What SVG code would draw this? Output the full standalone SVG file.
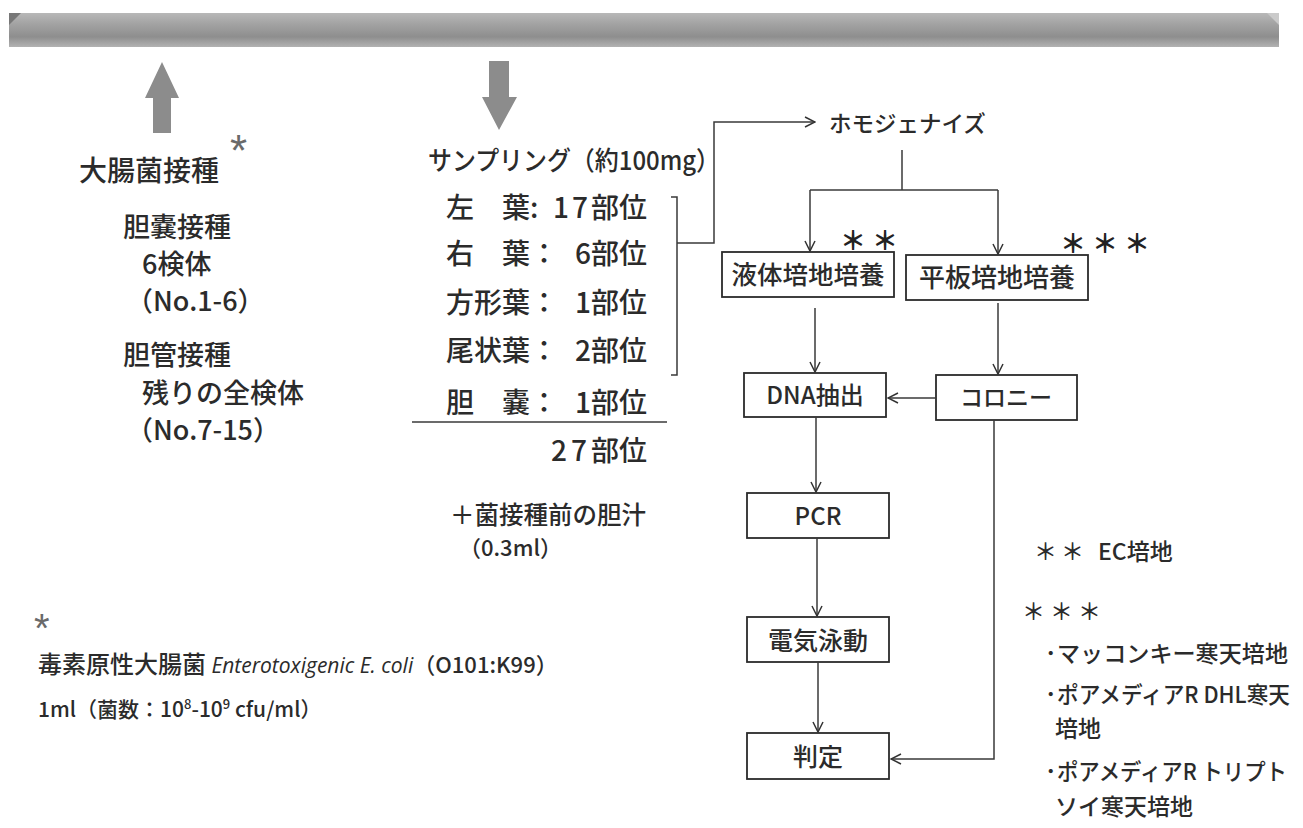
<svg xmlns="http://www.w3.org/2000/svg" width="1303" height="828" viewBox="0 0 1303 828">
<defs>
<linearGradient id="bar" x1="0" y1="0" x2="0" y2="1">
<stop offset="0" stop-color="#b8b8b8"/>
<stop offset="0.3" stop-color="#a4a4a4"/>
<stop offset="0.7" stop-color="#8e8e8e"/>
<stop offset="1" stop-color="#b2b2b2"/>
</linearGradient>
<marker id="ah" viewBox="0 0 12 12" refX="11" refY="6" markerWidth="12" markerHeight="12" markerUnits="userSpaceOnUse" orient="auto">
<path d="M1,1 L11,6 L1,11" fill="none" stroke="#333" stroke-width="1.5"/>
</marker>
<style>
text{font-family:"Noto Sans CJK JP","Noto Sans",sans-serif;fill:#2b2b2b;font-weight:500}
.lc{font-size:27px}
.mc{font-size:28px}
.bx{font-size:24px;text-anchor:middle}
.lg{font-size:23px}
.box{fill:#fff;stroke:#2b2b2b;stroke-width:1.8}
.ln{fill:none;stroke:#3a3a3a;stroke-width:1.5}
.fat{fill:#8c8c8c}
.ast{font-size:26px;font-weight:bold;fill:#222;letter-spacing:6px}
.star{font-family:"Liberation Sans",sans-serif;fill:#6a6a6a;font-weight:normal}
</style>
</defs>
<rect width="1303" height="828" fill="#fff"/>

<g id="top-bar">
<rect x="9" y="13" width="1270" height="34" fill="url(#bar)"/>
<polygon points="9,13 21,13 9,25" fill="#777"/>
<polygon points="1279,13 1267,13 1279,25" fill="#cacaca"/>
</g>

<g id="up-arrow">
<polygon class="fat" points="162,62 179,98 171,98 171,133 153,133 153,98 145,98"/>
</g>
<g id="down-arrow">
<polygon class="fat" points="489,61 509,61 509,97 517,97 499,130 482,97 489,97"/>
</g>

<g id="inoculation">
<text class="star" x="230" y="166" style="font-size:44px">*</text>
<text class="lc" x="79" y="181" style="font-size:28px">大腸菌接種</text>
<text class="lc" x="123" y="237">胆嚢接種</text>
<text class="lc" x="142" y="274">6検体</text>
<text class="lc" x="126" y="311">（No.1-6）</text>
<text class="lc" x="123" y="365">胆管接種</text>
<text class="lc" x="142" y="403">残りの全検体</text>
<text class="lc" x="126" y="440">（No.7-15）</text>
</g>

<g id="sampling">
<text x="428" y="170" style="font-size:26px" textLength="292" lengthAdjust="spacingAndGlyphs">サンプリング（約100mg）</text>
<text class="mc" x="446" y="218">左　葉:</text>
<text class="mc" x="647" y="218" text-anchor="end"><tspan style="letter-spacing:3px">17</tspan>部位</text>
<text class="mc" x="446" y="264">右　葉：</text>
<text class="mc" x="647" y="264" text-anchor="end">6部位</text>
<text class="mc" x="446" y="313">方形葉：</text>
<text class="mc" x="647" y="313" text-anchor="end">1部位</text>
<text class="mc" x="446" y="361">尾状葉：</text>
<text class="mc" x="647" y="361" text-anchor="end">2部位</text>
<text class="mc" x="446" y="413">胆　嚢：</text>
<text class="mc" x="647" y="413" text-anchor="end">1部位</text>
<path class="ln" d="M412,422 H667"/>
<text class="mc" x="647" y="461" text-anchor="end"><tspan style="letter-spacing:4px">27</tspan>部位</text>
<text x="450" y="524" style="font-size:24.5px">＋菌接種前の胆汁</text>
<text x="459" y="556" style="font-size:22px">（0.3ml）</text>
<path class="ln" d="M671,197 H677 V375 H671"/>
</g>

<g id="homogenize"><text x="829" y="132" style="font-size:22.5px">ホモジェナイズ</text></g>

<g id="liquid-culture">
<rect class="box" x="722" y="252" width="172" height="45"/>
<text class="bx" x="808" y="284" style="font-size:25.5px">液体培地培養</text>
<text class="ast" x="840" y="250">＊＊</text>
</g>
<g id="plate-culture">
<rect class="box" x="906" y="255" width="182" height="45"/>
<text class="bx" x="997" y="287" style="font-size:26px">平板培地培養</text>
<text class="ast" x="1060" y="253">＊＊＊</text>
</g>
<g id="dna-extraction">
<rect class="box" x="744" y="373" width="142" height="44"/>
<text class="bx" x="815" y="404">DNA抽出</text>
</g>
<g id="colony">
<rect class="box" x="936" y="375" width="141" height="45"/>
<text class="bx" x="1006" y="406" style="font-size:23px">コロニー</text>
</g>
<g id="pcr">
<rect class="box" x="747" y="493" width="142" height="45"/>
<text class="bx" x="818" y="525">PCR</text>
</g>
<g id="electrophoresis">
<rect class="box" x="747" y="617" width="142" height="45"/>
<text class="bx" x="818" y="650" style="font-size:25px">電気泳動</text>
</g>
<g id="judgement">
<rect class="box" x="747" y="733" width="142" height="46"/>
<text class="bx" x="818" y="766" style="font-size:25px">判定</text>
</g>

<g id="connectors">
<path class="ln" d="M677,243 H714 V122 H815" marker-end="url(#ah)"/>
<path class="ln" d="M902,150 V190"/>
<path class="ln" d="M810,190 H998"/>
<path class="ln" d="M810,190 V251" marker-end="url(#ah)"/>
<path class="ln" d="M998,190 V254" marker-end="url(#ah)"/>
<path class="ln" d="M815,308 V372" marker-end="url(#ah)"/>
<path class="ln" d="M998,303 V374" marker-end="url(#ah)"/>
<path class="ln" d="M936,398 H888" marker-end="url(#ah)"/>
<path class="ln" d="M816,417 V492" marker-end="url(#ah)"/>
<path class="ln" d="M817,538 V616" marker-end="url(#ah)"/>
<path class="ln" d="M818,662 V732" marker-end="url(#ah)"/>
<path class="ln" d="M994,420 V759 H891" marker-end="url(#ah)"/>
</g>

<g id="footnote-strain">
<text class="star" x="34" y="642" style="font-size:40px">*</text>
<text x="38" y="673" style="font-size:24px">毒素原性大腸菌 <tspan font-style="italic" style="font-family:'Open Sans',sans-serif;font-size:21px;font-weight:normal">Enterotoxigenic E. coli</tspan><tspan style="font-size:22px">（O101:K99）</tspan></text>
<text x="38" y="717" style="font-size:21px">1ml（菌数：10<tspan dy="-8" style="font-size:13px">8</tspan><tspan dy="8">-10</tspan><tspan dy="-8" style="font-size:13px">9</tspan><tspan dy="8"> cfu/ml）</tspan></text>
</g>

<g id="legend">
<text class="lg" x="1034" y="560" style="letter-spacing:4px">＊＊</text>
<text class="lg" x="1098" y="560">EC培地</text>
<text class="lg" x="1022" y="620" style="letter-spacing:5px">＊＊＊</text>
<text class="lg" x="1045" y="662">･</text>
<text class="lg" x="1057" y="662" textLength="231" lengthAdjust="spacingAndGlyphs">マッコンキー寒天培地</text>
<text class="lg" x="1045" y="703">･</text>
<text class="lg" x="1057" y="703" textLength="233" lengthAdjust="spacingAndGlyphs">ポアメディアR DHL寒天</text>
<text class="lg" x="1055" y="737">培地</text>
<text class="lg" x="1045" y="780">･</text>
<text class="lg" x="1057" y="780" textLength="230" lengthAdjust="spacingAndGlyphs">ポアメディアR トリプト</text>
<text class="lg" x="1055" y="815">ソイ寒天培地</text>
</g>
</svg>
